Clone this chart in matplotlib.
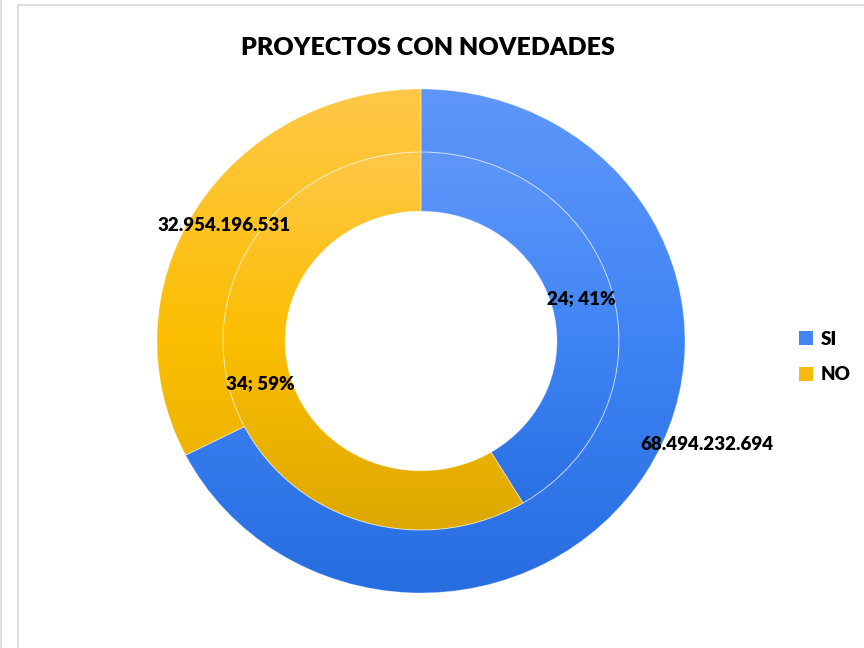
import numpy as np
import matplotlib
matplotlib.use("Agg")
import matplotlib.pyplot as plt
from matplotlib.colors import LinearSegmentedColormap
from matplotlib.patches import Patch
from matplotlib.lines import Line2D

categories = ["SI", "NO"]
valor = [68494232694, 32954196531]      # outer ring
proyectos = [24, 34]                   # inner ring

# bottom -> middle -> top gradient colours per category
grad_colors = {"SI": ["#286DDF", "#3F84F5", "#5F97F9"],
               "NO": ["#DDA800", "#FBBE00", "#FFC848"]}
legend_colors = {"SI": "#4286F4", "NO": "#F6BA10"}

plt.rcParams["font.family"] = ["Lato", "DejaVu Sans"]

fig = plt.figure(figsize=(8.64, 6.48), dpi=100)
ax = fig.add_axes([0, 0, 1, 1])

# figure frame lines
for xs, ys in [([1 / 864, 1 / 864], [0, 1]),
               ([18 / 864, 18 / 864], [0, 1 - 5 / 648]),
               ([18 / 864, 1], [1 - 5 / 648, 1 - 5 / 648])]:
    fig.add_artist(Line2D(xs, ys, transform=fig.transFigure, color="#D9D9D9", lw=1.2))


def gradient_ring(wedges, names, r_out):
    for w, name in zip(wedges, names):
        cmap = LinearSegmentedColormap.from_list(name, grad_colors[name])
        grad = np.linspace(0, 1, 256).reshape(-1, 1)
        im = ax.imshow(grad, cmap=cmap, origin="lower", aspect="auto",
                       extent=(-r_out, r_out, -r_out, r_out),
                       interpolation="bilinear", zorder=1)
        im.set_clip_path(w)
        w.set_facecolor("none")
        w.set_zorder(2)


outer, _ = ax.pie(valor, radius=1.0, startangle=90, counterclock=False,
                  wedgeprops=dict(width=0.25, edgecolor=(1, 1, 1, 0.35), linewidth=0.7))
inner, _ = ax.pie(proyectos, radius=0.75, startangle=90, counterclock=False,
                  wedgeprops=dict(width=0.235, edgecolor=(1, 1, 1, 0.35), linewidth=0.7))
gradient_ring(outer, categories, 1.0)
gradient_ring(inner, categories, 0.75)

# pixel-matched limits (ring is slightly wider than tall)
ax.set_aspect("auto")
ax.set_xlim(-421 / 264, (864 - 421) / 264)
ax.set_ylim(-(648 - 341) / 252, 341 / 252)
ax.axis("off")

lbl = dict(fontsize=13.5, fontweight="heavy", color="black", ha="center", va="center", zorder=5)


def fmt(v):
    return f"{v:,}".replace(",", ".")


# inner ring labels at mid angle
total = sum(proyectos)
start = 90.0
for n in proyectos:
    span = 360.0 * n / total
    mid = np.deg2rad(start - span / 2)
    ax.text(0.63 * np.cos(mid), 0.63 * np.sin(mid), f"{n}; {round(100 * n / total)}%", **lbl)
    start -= span

# outer ring labels
total_v = sum(valor)
span_si = 360.0 * valor[0] / total_v
mid_no = np.deg2rad(90 - span_si - (360 - span_si) / 2)
ax.text(0.875 * np.cos(mid_no), 0.875 * np.sin(mid_no), fmt(valor[1]), **lbl)
ax.text(1.083, -0.409, fmt(valor[0]), **lbl)

fig.text(428 / 864, 1 - 48 / 648, "PROYECTOS CON NOVEDADES", fontsize=18,
         fontweight="heavy", ha="center", va="center")

handles = [Patch(facecolor=legend_colors[c], edgecolor="none") for c in categories]
fig.legend(handles, categories, loc="center left", bbox_to_anchor=(782 / 864, 1 - 357 / 648),
           frameon=False, prop=dict(size=13.5, weight="heavy"),
           handlelength=0.75, handleheight=0.75, handletextpad=0.4, labelspacing=1.0)

fig.savefig("out.png", dpi=100)
